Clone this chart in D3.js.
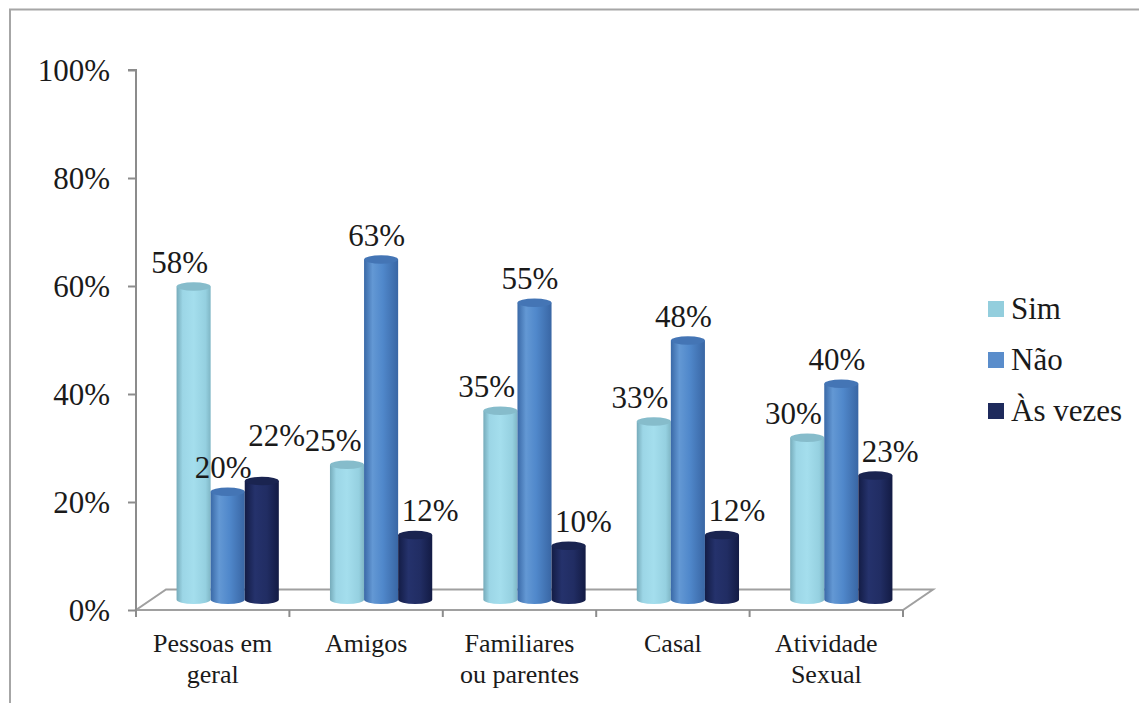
<!DOCTYPE html>
<html>
<head>
<meta charset="utf-8">
<script src="https://cdn.jsdelivr.net/npm/d3@7"></script>
<style>
  html, body { margin: 0; padding: 0; background: #ffffff; }
  svg { display: block; }
  text { font-family: "Liberation Serif", "Times New Roman", serif; fill: #1a1a1a; }
</style>
</head>
<body>
<svg id="chart" width="1139" height="703"></svg>
<script>
// ---- data ----
const categories = [["Pessoas em", "geral"], ["Amigos"], ["Familiares", "ou parentes"], ["Casal"], ["Atividade", "Sexual"]];
const seriesNames = ["Sim", "Não", "Às vezes"];
const simValues = [58, 25, 35, 33, 30];
const naoValues = [20, 63, 55, 48, 40];
const asVezesValues = [22, 12, 10, 12, 23];
const yTicks = [0, 20, 40, 60, 80, 100];

const seriesValues = [simValues, naoValues, asVezesValues];

// ---- style ----
const legendColors = ["#93CEDD", "#5A8DCB", "#1E2A5C"];
const gradStops = [
  [["0", "#76ABBA"], ["0.18", "#9CD6E6"], ["0.5", "#A4DEED"], ["0.85", "#95D0E0"], ["1", "#7FB6C5"]],
  [["0", "#3A69A7"], ["0.25", "#6398D4"], ["0.55", "#5088CB"], ["1", "#3966A4"]],
  [["0", "#131C45"], ["0.3", "#25326C"], ["0.65", "#212D63"], ["1", "#131B44"]]
];
const topColors = ["#86BCCB", "#4475B5", "#1A2450"];

const svg = d3.select("#chart");

// outer frame (top and left only visible)
svg.append("path")
  .attr("d", "M10,703 V9.5 H1139")
  .attr("fill", "none").attr("stroke", "#A6A6A6").attr("stroke-width", 2);

// ---- scales ----
const plotLeft = 136, plotRight = 903;
const depthX = 30, depthY = -20.5;
const y = d3.scaleLinear().domain([0, 100]).range([610, 70]);
const x0 = d3.scaleBand().domain(d3.range(categories.length)).range([plotLeft, plotRight]).paddingInner(0).paddingOuter(0);
const bw = x0.bandwidth();
const gap = bw / 4.5 * 1.5;
const x1 = d3.scaleBand().domain(d3.range(seriesNames.length)).range([gap / 2, bw - gap / 2]).padding(0);

// ---- floor ----
const axisColor = "#8C8C8C";
svg.append("path")
  .attr("d", `M${plotLeft},${y(0)} L${plotRight},${y(0)} L${plotRight + depthX},${y(0) + depthY} L${plotLeft + depthX},${y(0) + depthY} Z`)
  .attr("fill", "none").attr("stroke", "#A0A0A0").attr("stroke-width", 2);

// y axis
const yAxis = d3.axisLeft(y).tickValues(yTicks).tickSize(8).tickFormat(d => d + "%");
const gy = svg.append("g").attr("transform", `translate(${plotLeft},0)`).call(yAxis);
gy.select(".domain").attr("stroke", axisColor).attr("stroke-width", 2)
  .attr("d", `M-8,${y(100)}H0V${y(0) + 7}`);
gy.selectAll(".tick line").attr("stroke", axisColor).attr("stroke-width", 2);
gy.selectAll(".tick text")
  .attr("x", -26).attr("dy", "0.33em")
  .style("font-size", "31px").style("font-family", "'Liberation Serif', serif").attr("fill", "#1a1a1a");

// x axis ticks at category boundaries
const xBounds = d3.range(categories.length + 1).map(i => plotLeft + i * bw);
svg.append("g").selectAll("line").data(xBounds).join("line")
  .attr("x1", d => d).attr("x2", d => d)
  .attr("y1", y(0)).attr("y2", y(0) + 7)
  .attr("stroke", axisColor).attr("stroke-width", 2);

// category labels
const catG = svg.append("g");
categories.forEach((lines, i) => {
  const t = catG.append("text")
    .attr("x", x0(i) + bw / 2).attr("y", 652)
    .attr("text-anchor", "middle").style("font-size", "26px");
  lines.forEach((ln, j) => {
    t.append("tspan").attr("x", x0(i) + bw / 2).attr("dy", j === 0 ? 0 : 31).text(ln);
  });
});

// gradients
const defs = svg.append("defs");
gradStops.forEach((stops, s) => {
  const g = defs.append("linearGradient").attr("id", "grad" + s)
    .attr("x1", "0").attr("x2", "1").attr("y1", "0").attr("y2", "0");
  stops.forEach(([o, c]) => g.append("stop").attr("offset", o).attr("stop-color", c));
});

// ---- cylinders ----
const ry = 4.2;
const barsG = svg.append("g");
const placed = [];
const labelsG = svg.append("g");
categories.forEach((c, i) => {
  const groupPlaced = [];
  seriesValues.forEach((vals, s) => {
    const v = vals[i];
    const left = x0(i) + x1(s) + depthX / 2;
    const w = x1.bandwidth();
    const cx = left + w / 2;
    const base = y(0) + depthY / 2;
    const top = y(v) + depthY / 2;
    const g = barsG.append("g");
    g.append("path")
      .attr("d", `M${left},${top} L${left},${base} A${w / 2},${ry} 0 0 0 ${left + w},${base} L${left + w},${top} Z`)
      .attr("fill", `url(#grad${s})`);
    g.append("ellipse")
      .attr("cx", cx).attr("cy", top).attr("rx", w / 2).attr("ry", ry)
      .attr("fill", topColors[s]);

    // data label
    const fs = 31;
    const tw = 1.833 * fs;
    let anchorX, lx0;
    if (s === 0) { anchorX = left + w - 2.5; lx0 = anchorX - tw; }
    else if (s === 1) { anchorX = cx - 4.5; lx0 = anchorX - tw / 2; }
    else { anchorX = left + 3.5; lx0 = anchorX; }
    let baseline = top - 14;
    let box = { x0: lx0, x1: lx0 + tw, y0: baseline - 22, y1: baseline };
    groupPlaced.forEach(b => {
      const hOv = Math.min(box.x1, b.x1) - Math.max(box.x0, b.x0);
      const vOv = Math.min(box.y1, b.y1) - Math.max(box.y0, b.y0);
      if (hOv > 2 && vOv > 0) {
        baseline = b.y0 - 10;
        box = { x0: lx0, x1: lx0 + tw, y0: baseline - 22, y1: baseline };
      }
    });
    groupPlaced.push(box);
    labelsG.append("text")
      .attr("x", anchorX).attr("y", baseline)
      .attr("text-anchor", s === 0 ? "end" : (s === 1 ? "middle" : "start"))
      .style("font-size", fs + "px")
      .text(v + "%");
  });
});

// ---- legend ----
const legG = svg.append("g");
seriesNames.forEach((n, s) => {
  const ly = 301 + s * 51;
  legG.append("rect").attr("x", 988).attr("y", ly).attr("width", 16).attr("height", 16).attr("fill", legendColors[s]);
  legG.append("text").attr("x", 1011).attr("y", ly + 18).style("font-size", "31px").text(n);
});
</script>
</body>
</html>
